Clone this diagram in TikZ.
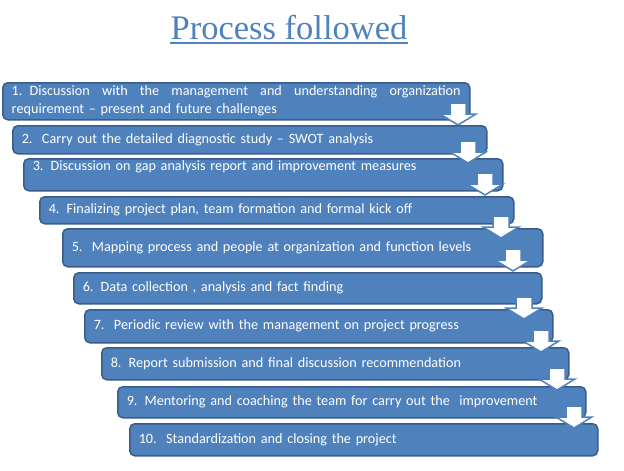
\documentclass[tikz,border=0pt]{standalone}
\usepackage{fontspec}
\setmainfont{Carlito}
\newfontfamily\titlefont{Liberation Serif}
\definecolor{boxfill}{HTML}{4F81BD}
\definecolor{boxline}{HTML}{385D8A}
\definecolor{titleblue}{HTML}{4F81BD}
\begin{document}
\begin{tikzpicture}[x=1pt,y=-1pt,
  stepbox/.style={draw=boxline, fill=boxfill, line width=1.5pt, rounded corners=5pt,
    anchor=north west, inner xsep=9pt, inner ysep=0pt, text=white,
    font=\fontsize{14.2}{18}\selectfont, align=left},
  darrow/.style={draw=boxfill, fill=white, line width=1.5pt, line join=miter},
  downarr/.pic={\path[darrow] (-8,-22) -- (8,-22) -- (8,-11) -- (18,-11) -- (0,0) -- (-18,-11) -- (-8,-11) -- cycle;}]
\useasboundingbox (0,0) rectangle (624,471);
\node[font=\titlefont\fontsize{34.5}{38}\selectfont, text=titleblue, inner sep=0pt, anchor=base] (title) at (289,39) {Process followed};
\draw[titleblue, line width=1.5pt] ([yshift=-4pt]title.base west) -- ([yshift=-4pt]title.base east);

\node[stepbox, minimum width=467pt, minimum height=37pt, text width=449pt] (b1) at (2,82)
  {\hbox to 449pt{\spaceskip=0.25em plus 1fil\relax 1. Discussion with the management and understanding organization}\\requirement – present and future challenges};
\node[stepbox, minimum width=474pt, minimum height=28pt, text width=456pt] (b2) at (12,125)
  {2.\ \ Carry out the detailed diagnostic study – SWOT analysis};
\node[stepbox, minimum width=479pt, minimum height=32pt, text width=461pt] (b3) at (23,158)
  {3. Discussion on gap analysis report and improvement measures\\\mbox{}};
\node[stepbox, minimum width=474pt, minimum height=27pt, text width=456pt] (b4) at (39,196)
  {4. Finalizing project plan, team formation and formal kick off};
\node[stepbox, minimum width=480pt, minimum height=38pt, text width=462pt] (b5) at (62,228)
  {5.\ \ Mapping process and people at organization and function levels};
\node[stepbox, minimum width=468pt, minimum height=31pt, text width=450pt] (b6) at (73,272)
  {6. Data collection , analysis and fact finding};
\node[stepbox, minimum width=468pt, minimum height=33pt, text width=450pt] (b7) at (84,309)
  {7.\ \ Periodic review with the management on project progress};
\node[stepbox, minimum width=467pt, minimum height=32pt, text width=449pt] (b8) at (101,347)
  {8. Report submission and final discussion recommendation};
\node[stepbox, minimum width=468pt, minimum height=31pt, text width=450pt] (b9) at (117,386)
  {9. Mentoring and coaching the team for carry out the\ \ improvement};
\node[stepbox, minimum width=468pt, minimum height=32pt, text width=450pt] (b10) at (129,423)
  {10.\ \ Standardization and closing the project};

\pic at (458,125) {downarr};
\pic at (468,163) {downarr};
\pic at (485,195) {downarr};
\pic at (501,238) {downarr};
\pic at (513,271) {downarr};
\pic at (524,319) {downarr};
\pic at (541,352) {downarr};
\pic at (557,390) {downarr};
\pic at (574,428) {downarr};
\end{tikzpicture}
\end{document}
